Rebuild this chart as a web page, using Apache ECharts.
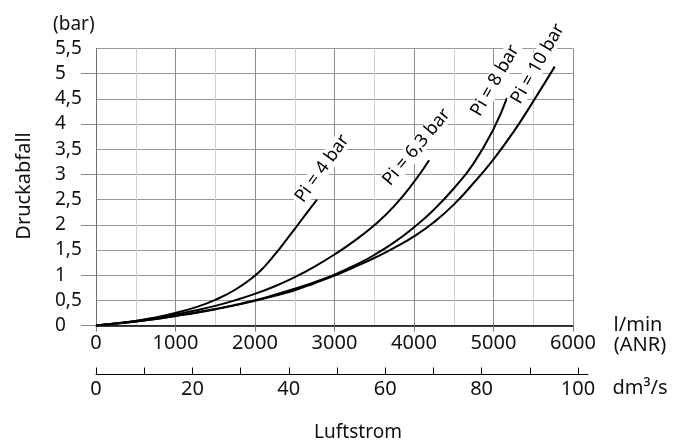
<!DOCTYPE html>
<html><head><meta charset="utf-8">
<script src="https://cdn.jsdelivr.net/npm/echarts@6/dist/echarts.min.js"></script>
<style>html,body{margin:0;padding:0;background:#fff}#c{width:682px;height:445px}</style>
</head><body><div id="c"></div>
<script>
// Tick values
const flowTicks = [0, 1000, 2000, 3000, 4000, 5000, 6000];          // l/min (ANR)
const dm3TickValues = [0, 10, 20, 30, 40, 50, 60, 70, 80, 90, 100];  // dm³/s ticks
const dm3LabelValues = [0, 20, 40, 60, 80, 100];                    // dm³/s labels
const pressureMajorTicks = [0, 1, 2, 3, 4, 5];                      // bar, long ticks

// Series (flow in l/min, pressure drop in bar)
const seriesNames = ['Pi = 4 bar', 'Pi = 6,3 bar', 'Pi = 8 bar', 'Pi = 10 bar'];
const flow4  = [0, 250, 500, 750, 1000, 1250, 1500, 1750, 2000, 2125, 2250, 2375, 2500, 2640, 2780];
const drop4  = [0, 0.04, 0.09, 0.16, 0.25, 0.36, 0.51, 0.71, 0.99, 1.18, 1.41, 1.66, 1.92, 2.21, 2.5];
const flow63 = [0, 250, 500, 750, 1000, 1250, 1500, 1750, 2000, 2250, 2500, 2750, 3000, 3250, 3500, 3750, 4000, 4190];
const drop63 = [0, 0.04, 0.09, 0.15, 0.22, 0.30, 0.39, 0.50, 0.63, 0.78, 0.96, 1.17, 1.41, 1.68, 1.99, 2.37, 2.85, 3.28];
const flow8  = [0, 250, 500, 750, 1000, 1250, 1500, 1750, 2000, 2250, 2500, 2750, 3000, 3250, 3500, 3750, 4000, 4250, 4500, 4750, 5000, 5170];
const drop8  = [0, 0.04, 0.08, 0.13, 0.19, 0.26, 0.33, 0.41, 0.50, 0.61, 0.73, 0.86, 1.01, 1.19, 1.40, 1.65, 1.95, 2.30, 2.72, 3.22, 3.90, 4.52];
const flow10 = [0, 250, 500, 750, 1000, 1250, 1500, 1750, 2000, 2250, 2500, 2750, 3000, 3250, 3500, 3750, 4000, 4250, 4500, 4750, 5000, 5250, 5500, 5770];
const drop10 = [0, 0.04, 0.08, 0.13, 0.19, 0.25, 0.32, 0.40, 0.49, 0.59, 0.70, 0.84, 0.99, 1.16, 1.34, 1.54, 1.77, 2.05, 2.40, 2.83, 3.30, 3.84, 4.45, 5.14];

const FONT = 'Noto Sans';
const labelStyles = [
  { rotate: 54, offset: [28, -14] },
  { rotate: 50, offset: [2, -18] },
  { rotate: 60, offset: [9, -19] },
  { rotate: 60, offset: [-6, -16] }
];

function makeSeries(name, xs, ys, ls) {
  const data = xs.map((x, i) => {
    const item = { value: [x, ys[i]] };
    if (i === xs.length - 1) {
      item.label = {
        show: true, formatter: name, position: 'inside',
        rotate: ls.rotate, offset: ls.offset,
        align: 'center', verticalAlign: 'middle',
        fontFamily: FONT, fontSize: 18, color: '#000',
        backgroundColor: '#fff', padding: [0, 2]
      };
    }
    return item;
  });
  return {
    type: 'line', name, data, xAxisIndex: 0, yAxisIndex: 0,
    smooth: 0.5,
    symbol: 'circle', symbolSize: 0, showSymbol: true, showAllSymbol: true,
    lineStyle: { color: '#000', width: 2 },
    itemStyle: { color: '#000' },
    label: { show: false },
    emphasis: { disabled: true },
    z: 5
  };
}

const chart = echarts.init(document.getElementById('c'), null, { renderer: 'canvas' });
chart.setOption({
  animation: false,
  backgroundColor: '#fff',
  grid: [
    { left: 96, right: 109, top: 48.5, bottom: 119.5 },
    { left: 96, right: 94, top: 48.5, bottom: 70.5 }
  ],
  xAxis: [
    {
      type: 'value', gridIndex: 0, min: 0, max: 6000, interval: 1000,
      axisLine: { show: true, lineStyle: { color: '#000', width: 1.5 } },
      axisTick: { show: true, length: 6, customValues: flowTicks, lineStyle: { color: '#777' } },
      axisLabel: { customValues: flowTicks, fontFamily: FONT, fontSize: 20, color: '#111', margin: 8, formatter: v => String(v) },
      splitLine: { show: true, lineStyle: { color: '#8c8c8c', width: 1 } },
      minorTick: { show: false, splitNumber: 2 },
      minorSplitLine: { show: true, lineStyle: { color: '#cfcfcf', width: 1 } }
    },
    {
      type: 'value', gridIndex: 1, min: 0, max: 102.07,
      axisLine: { show: true, lineStyle: { color: '#000', width: 1 } },
      axisTick: { show: true, inside: true, length: 7, customValues: dm3TickValues, lineStyle: { color: '#000' } },
      axisLabel: { customValues: dm3LabelValues, fontFamily: FONT, fontSize: 20, color: '#111', margin: 5, formatter: v => String(v) },
      splitLine: { show: false }
    }
  ],
  yAxis: [
    {
      type: 'value', gridIndex: 0, min: 0, max: 5.5, interval: 0.5,
      axisLine: { show: true, lineStyle: { color: '#707070', width: 1 } },
      axisTick: { show: false },
      axisLabel: {
        fontFamily: FONT, fontSize: 19, color: '#111', align: 'left', margin: 41,
        formatter: v => String(v).replace('.', ',')
      },
      splitLine: { show: true, lineStyle: { color: '#999', width: 1 } }
    },
    {
      type: 'value', gridIndex: 0, min: 0, max: 5.5, position: 'left',
      axisLine: { show: false },
      axisTick: { show: true, length: 15, customValues: pressureMajorTicks, lineStyle: { color: '#888' } },
      axisLabel: { show: false },
      splitLine: { show: false }
    },
    { type: 'value', gridIndex: 1, show: false, min: 0, max: 1 }
  ],
  graphic: [
    { type: 'text', x: 53, y: 25, style: { text: '(bar)', font: '19px "Noto Sans"', fill: '#111', align: 'left', verticalAlign: 'middle' } },
    { type: 'text', x: 24, y: 186, rotation: Math.PI / 2, style: { text: 'Druckabfall', font: '20px "Noto Sans"', fill: '#111', align: 'center', verticalAlign: 'middle' } },
    { type: 'text', x: 638, y: 325, style: { text: 'l/min', font: '20px "Noto Sans"', fill: '#111', align: 'center', verticalAlign: 'middle' } },
    { type: 'text', x: 640, y: 345, style: { text: '(ANR)', font: '20px "Noto Sans"', fill: '#111', align: 'center', verticalAlign: 'middle' } },
    { type: 'text', x: 640, y: 388, style: { text: 'dm³/s', font: '20px "Noto Sans"', fill: '#111', align: 'center', verticalAlign: 'middle' } },
    { type: 'text', x: 358, y: 433, style: { text: 'Luftstrom', font: '19px "Noto Sans"', fill: '#111', align: 'center', verticalAlign: 'middle' } }
  ],
  series: [
    makeSeries(seriesNames[0], flow4, drop4, labelStyles[0]),
    makeSeries(seriesNames[1], flow63, drop63, labelStyles[1]),
    makeSeries(seriesNames[2], flow8, drop8, labelStyles[2]),
    makeSeries(seriesNames[3], flow10, drop10, labelStyles[3])
  ]
});
</script></body></html>
